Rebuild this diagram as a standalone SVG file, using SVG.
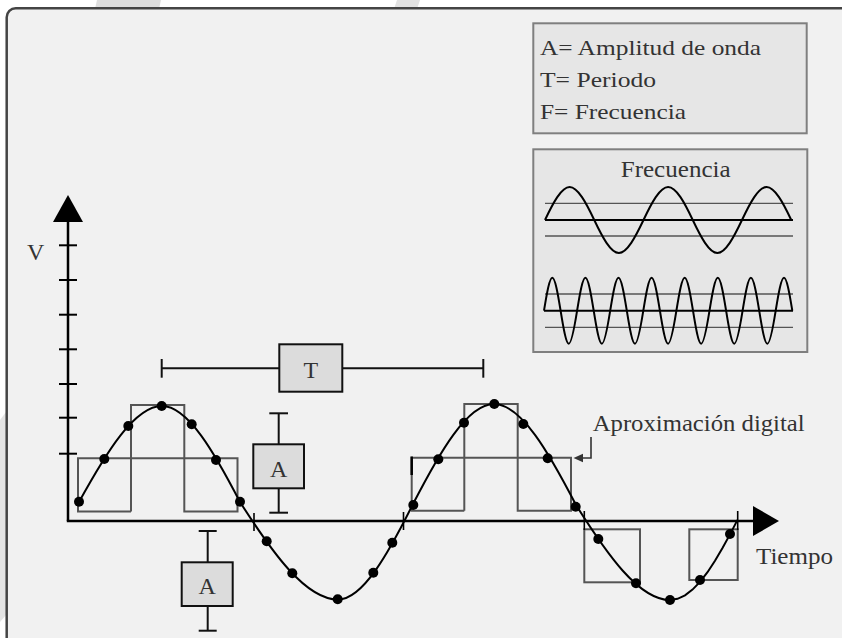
<svg xmlns="http://www.w3.org/2000/svg" width="842" height="638" viewBox="0 0 842 638">
<style>
.t{font-family:"Liberation Serif","DejaVu Serif",serif;fill:#333;font-size:23px}
.lg{font-size:21px}
.big{font-size:24px}
.box{fill:#dcdcdc;stroke:#111;stroke-width:2}
.panel{fill:#e6e6e6;stroke:#7f7f7f;stroke-width:2}
.step{fill:none;stroke:#555;stroke-width:2}
.wave{fill:none;stroke:#000;stroke-width:2}
.thin{stroke:#555;stroke-width:1.3}
.ax{stroke:#000;stroke-width:2.5;fill:none}
.br{stroke:#111;stroke-width:2;fill:none}
</style>
<rect x="0" y="0" width="842" height="638" fill="#fff"/>
<polygon points="97,0 161,0 159,9 95,9" fill="#dedede"/>
<polygon points="397,0 420,0 417,9 394,9" fill="#e2e2e2"/>
<polygon points="0,420 6,412 6,615 0,622" fill="#e4e4e4"/>
<rect id="frame" x="6.7" y="8.3" width="900" height="700" rx="9" fill="#f1f1f1" stroke="#444" stroke-width="2.5"/>

<g id="legend">
<rect class="panel" x="533.3" y="23.3" width="273.4" height="110"/>
<text class="t lg" x="540" y="55" textLength="221" lengthAdjust="spacingAndGlyphs">A= Amplitud de onda</text>
<text class="t lg" x="540" y="87" textLength="116" lengthAdjust="spacingAndGlyphs">T= Periodo</text>
<text class="t lg" x="540" y="119" textLength="146" lengthAdjust="spacingAndGlyphs">F= Frecuencia</text>
</g>

<g id="frecuencia">
<rect class="panel" x="533.3" y="149.3" width="274" height="202.7"/>
<text class="t" x="620.7" y="176.7" textLength="110" lengthAdjust="spacingAndGlyphs">Frecuencia</text>
<line class="thin" x1="545" y1="203.3" x2="793" y2="203.3"/>
<line class="thin" x1="545" y1="236" x2="793" y2="236"/>
<line x1="545" y1="220" x2="793" y2="220" stroke="#000" stroke-width="2"/>
<path class="wave" d="M545,220 C553.03,203.1 561.45,187 569.63,187 S586.23,203.1 594.25,220 S610.7,253 618.88,253 S635.48,236.9 643.5,220 S659.95,187 668.13,187 S684.73,203.1 692.75,220 S709.2,253 717.38,253 S733.98,236.9 742,220 S758.45,187 766.63,187 S783.23,203.1 791.25,220"/>
<line class="thin" x1="545" y1="294" x2="793" y2="294"/>
<line class="thin" x1="545" y1="327.3" x2="793" y2="327.3"/>
<line x1="544" y1="310.7" x2="793" y2="310.7" stroke="#000" stroke-width="2"/>
<path class="wave" d="M544,310.7 C546.7,293.8 549.5,277.7 552.3,277.7 S557.9,293.8 560.6,310.7 S566.1,343.7 568.8,343.7 S574.4,327.6 577.1,310.7 S582.6,277.7 585.4,277.7 S591,293.8 593.7,310.7 S599.2,343.7 601.9,343.7 S607.5,327.6 610.2,310.7 S615.7,277.7 618.5,277.7 S624.1,293.8 626.8,310.7 S632.3,343.7 635,343.7 S640.6,327.6 643.3,310.7 S648.8,277.7 651.6,277.7 S657.2,293.8 659.9,310.7 S665.4,343.7 668.1,343.7 S673.7,327.6 676.4,310.7 S681.9,277.7 684.7,277.7 S690.3,293.8 693,310.7 S698.5,343.7 701.2,343.7 S706.8,327.6 709.5,310.7 S715,277.7 717.8,277.7 S723.4,293.8 726.1,310.7 S731.6,343.7 734.3,343.7 S739.9,327.6 742.6,310.7 S748.1,277.7 750.9,277.7 S756.5,293.8 759.2,310.7 S764.7,343.7 767.4,343.7 S773,327.6 775.7,310.7 S781.2,277.7 784,277.7 S789.6,293.8 792.3,310.7"/>
</g>

<g id="axes">
<line class="ax" x1="68" y1="218" x2="68" y2="521"/>
<line class="ax" x1="66.8" y1="521" x2="756" y2="521"/>
<polygon points="68,195 53,222 83,222" fill="#000"/>
<polygon points="753,506 779,521 753,536" fill="#000"/>
<g stroke="#000" stroke-width="2">
<line x1="59" y1="245.3" x2="77" y2="245.3"/>
<line x1="59" y1="280" x2="77" y2="280"/>
<line x1="59" y1="314.7" x2="77" y2="314.7"/>
<line x1="59" y1="349.3" x2="77" y2="349.3"/>
<line x1="59" y1="384" x2="77" y2="384"/>
<line x1="59" y1="417.7" x2="77" y2="417.7"/>
<line x1="59" y1="453.7" x2="77" y2="453.7"/>
</g>
<text class="t big" x="27" y="260">V</text>
<text class="t" x="756" y="564" textLength="77" lengthAdjust="spacingAndGlyphs">Tiempo</text>
</g>

<g id="steps">
<path class="step" d="M131,511.5 H78 V458.3 H237.5 V511.5 H184.3 V405 H131 V511.5"/>
<path class="step" d="M464.3,510.7 H411.7 V457.7 H571 V510.7 H517.7 V404 H464.3 V510.7"/>
<line x1="411.7" y1="456.5" x2="411.7" y2="475" stroke="#000" stroke-width="2.5"/>
<rect class="step" x="584.3" y="529.3" width="55.7" height="53"/>
<rect class="step" x="689.3" y="529.3" width="48.4" height="50.7"/>
<g stroke="#000" stroke-width="1.6">
<line x1="584.3" y1="511" x2="584.3" y2="530"/>
<line x1="737.7" y1="511" x2="737.7" y2="530"/>
<line x1="254" y1="513" x2="254" y2="531"/>
<line x1="403.5" y1="512" x2="403.5" y2="530"/>
</g>
</g>

<g id="signal">
<path class="wave" d="M79,502 C106.06,452.83 134.44,406 162,406 C187.9,406 214.57,452.83 240,502 C271.95,551.94 305.46,599.5 338,599.5 C362.9,599.5 388.55,552.92 413,504 C439.41,452.78 467.11,404 494,404 C521.22,404 549.27,453.27 576,505 C606.64,553.66 638.79,600 670,600 L677.5,598.8 L685,595.4 L692.5,589.6 L700,581.9 L707.5,572.2 L715,560.8 L722.5,548.1 L730,534.4 L737.5,519.9"/>
<g fill="#000">
<circle cx="79" cy="501.7" r="5"/>
<circle cx="104.3" cy="459" r="5"/>
<circle cx="128.3" cy="426" r="5"/>
<circle cx="161.7" cy="406" r="5"/>
<circle cx="191.7" cy="424.3" r="5"/>
<circle cx="216" cy="460" r="5"/>
<circle cx="240" cy="501.7" r="5"/>
<circle cx="266.7" cy="541.3" r="5"/>
<circle cx="292.3" cy="573.3" r="5"/>
<circle cx="337.7" cy="599.3" r="5"/>
<circle cx="373.3" cy="572.7" r="5"/>
<circle cx="392.3" cy="542.7" r="5"/>
<circle cx="413.3" cy="505" r="5"/>
<circle cx="438.3" cy="459.3" r="5"/>
<circle cx="464" cy="422.7" r="5"/>
<circle cx="494.3" cy="404" r="5"/>
<circle cx="523.3" cy="424" r="5"/>
<circle cx="547.7" cy="458.3" r="5"/>
<circle cx="575.7" cy="506.7" r="5"/>
<circle cx="598.3" cy="539" r="5"/>
<circle cx="636" cy="583.3" r="5"/>
<circle cx="670" cy="600" r="5"/>
<circle cx="700" cy="580" r="5"/>
<circle cx="730" cy="534" r="5"/>
</g>
</g>

<g id="periodo">
<line class="br" x1="161.7" y1="368.3" x2="483.3" y2="368.3"/>
<line class="br" x1="161.7" y1="359" x2="161.7" y2="377.7"/>
<line class="br" x1="483.3" y1="359" x2="483.3" y2="377.7"/>
<rect class="box" x="279.3" y="344.3" width="63" height="47.4"/>
<text class="t big" x="310.8" y="377.5" text-anchor="middle">T</text>
</g>

<g id="amplitud1">
<line class="br" x1="278.7" y1="413.3" x2="278.7" y2="512.7"/>
<line class="br" x1="269.3" y1="413.3" x2="288" y2="413.3"/>
<line class="br" x1="269.3" y1="512.7" x2="288" y2="512.7"/>
<rect class="box" x="253.3" y="444.3" width="50.7" height="44"/>
<text class="t big" x="278.6" y="477" text-anchor="middle">A</text>
</g>

<g id="amplitud2">
<line class="br" x1="207.7" y1="531" x2="207.7" y2="630.7"/>
<line class="br" x1="198.7" y1="531" x2="216.7" y2="531"/>
<line class="br" x1="198.7" y1="630.7" x2="216.7" y2="630.7"/>
<rect class="box" x="181.7" y="562.3" width="51" height="43.7"/>
<text class="t big" x="207.2" y="594.3" text-anchor="middle">A</text>
</g>

<g id="aproximacion">
<text class="t" x="592.7" y="430.7" textLength="212" lengthAdjust="spacingAndGlyphs">Aproximación digital</text>
<path d="M591,437 V458 H582" fill="none" stroke="#333" stroke-width="1.6"/>
<polygon points="573.5,458 583,453.8 583,462.2" fill="#333"/>
</g>
</svg>
